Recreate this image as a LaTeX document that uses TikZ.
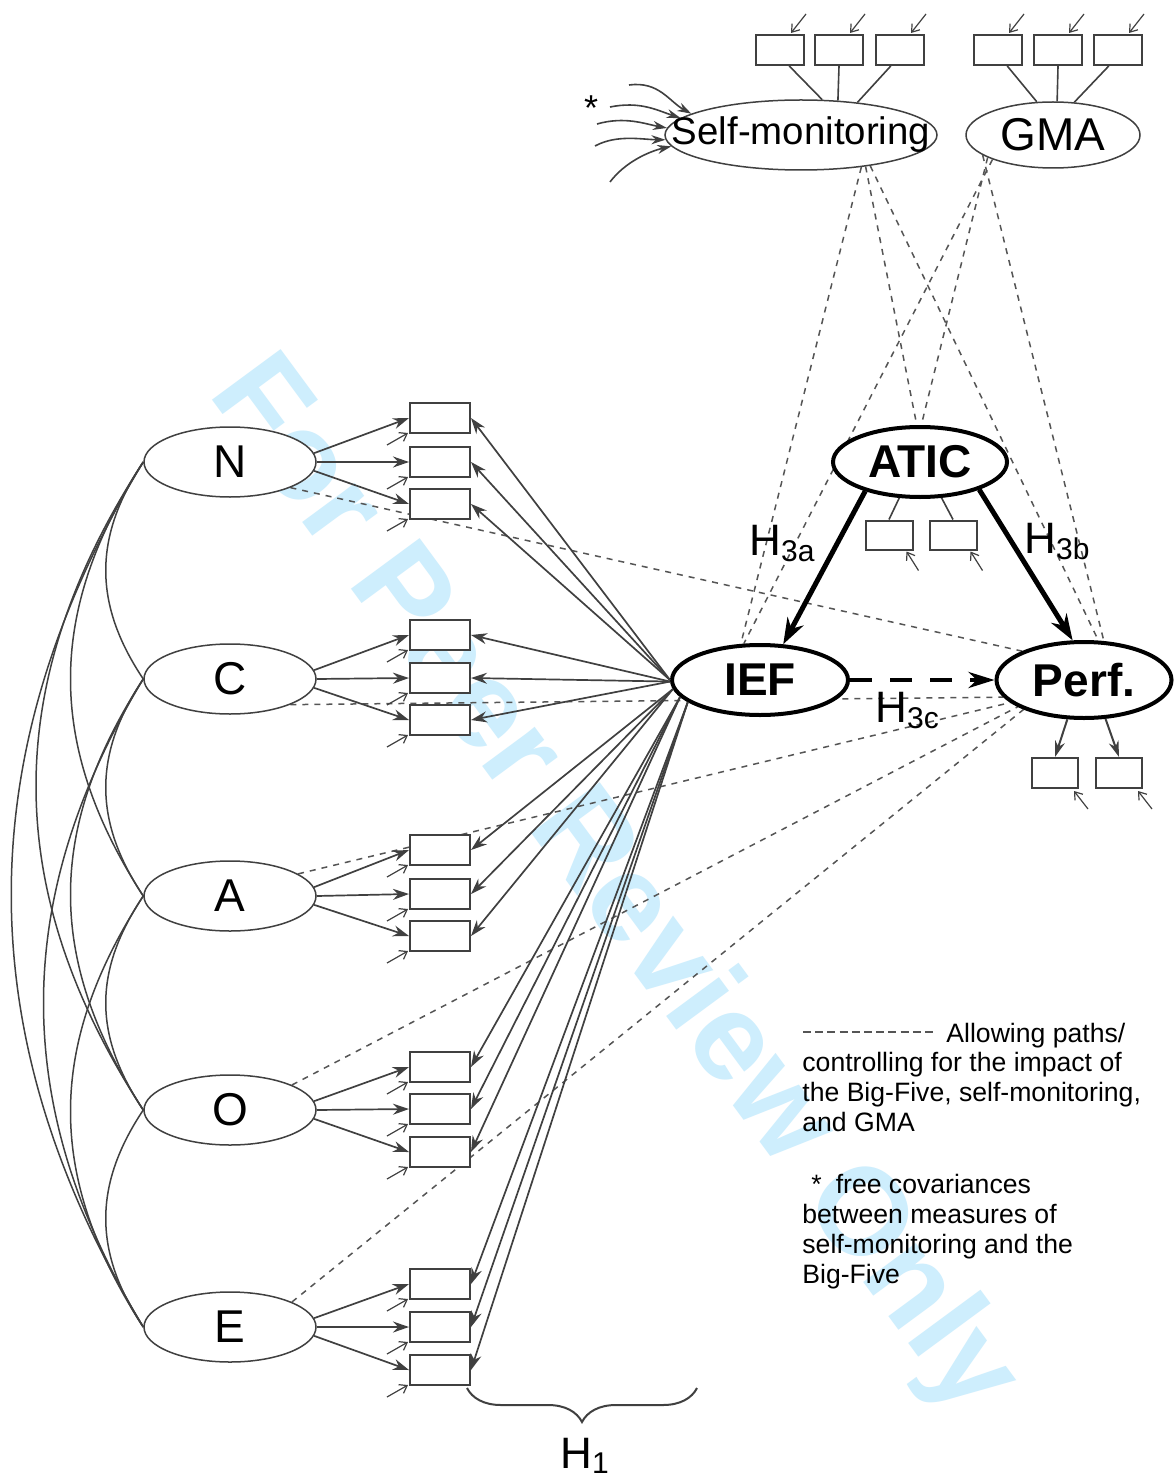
\documentclass[tikz,border=0pt]{standalone}
\usepackage{fontspec}
\setmainfont{Liberation Sans}
\usetikzlibrary{arrows.meta,decorations.pathreplacing,shapes.geometric,calc}
\definecolor{wmblue}{RGB}{206,238,253}
\definecolor{ln}{RGB}{64,64,64}
\definecolor{dl}{RGB}{85,85,85}
\pgfdeclarelayer{wmlayer}
\pgfdeclarelayer{bglayer}
\pgfsetlayers{wmlayer,bglayer,main}
\tikzset{
  lat/.style={ellipse, draw=ln, line width=0.75pt, fill=white, inner sep=0pt,
    minimum width=86pt, minimum height=35pt, font=\fontsize{23}{23}\selectfont},
  keylat/.style={ellipse, draw=black, line width=2pt, fill=white, inner sep=0pt,
    font=\bfseries\fontsize{23}{23}\selectfont},
  indbox/.style={rectangle, draw=ln, line width=1pt, fill=white, inner sep=0pt,
    minimum width=30pt, minimum height=15pt},
  smallbox/.style={indbox, minimum width=24pt, minimum height=15pt},
  arr/.style={draw=ln, line width=0.85pt, -{Stealth[length=8pt,width=5.5pt]}},
  errarr/.style={draw=ln, line width=0.6pt, -{Straight Barb[length=3.5pt,width=5pt]}},
  covarr/.style={draw=ln, line width=0.8pt, -{Stealth[length=7pt,width=4.5pt]}},
  link/.style={draw=ln, line width=0.8pt},
  cov/.style={draw=ln, line width=0.75pt},
  ctrl/.style={draw=dl, line width=0.75pt, dash pattern=on 3pt off 3pt},
  legdash/.style={draw=dl, line width=1.1pt, dash pattern=on 4pt off 2.1pt},
  bigarr/.style={draw=black, line width=2.5pt, -{Stealth[length=13pt,width=9pt]}},
  bigdash/.style={draw=black, line width=2.3pt, dash pattern=on 11pt off 9pt, -{Stealth[length=13pt,width=8pt]}},
  medarr/.style={draw=ln, line width=1pt, -{Stealth[length=8pt,width=5pt]}},
  hlab/.style={anchor=base west, inner sep=0pt, font=\fontsize{22}{22}\selectfont},
  legtxt/.style={anchor=base west, inner sep=0pt, font=\fontsize{13.3}{15}\selectfont},
}
\newcommand{\subtxt}[1]{\raisebox{-3pt}{\fontsize{15}{15}\selectfont #1}}
\begin{document}
\begin{tikzpicture}[x=0.5pt,y=-0.5pt]
\useasboundingbox (0,0) rectangle (1173,1481);
\begin{pgfonlayer}{wmlayer}
\fill[white] (0,0) rectangle (1173,1481);
\node[rotate=-53.6, text=wmblue, font=\bfseries\fontsize{62}{62}\selectfont, inner sep=0pt] (wmark) at (612,888) {For Peer Review Only};
\end{pgfonlayer}

% latent variables
\node[lat] (N) at (230,462) {N};
\node[lat] (C) at (230,679) {C};
\node[lat] (A) at (230,896) {A};
\node[lat] (O) at (230,1110) {O};
\node[lat] (E) at (230,1327) {E};
\node[lat, minimum width=136pt, minimum height=35pt, font=\fontsize{19.2}{19.2}\selectfont] (SM) at (801,135) {\makebox[0pt]{\raisebox{-1pt}{Self-monitoring}}};
\node[lat, minimum width=87pt, minimum height=33pt] (GMA) at (1053,135) {GMA};
\node[keylat, minimum width=87pt, minimum height=35pt] (ATIC) at (920,462) {ATIC};
\node[keylat, minimum width=88pt, minimum height=35pt] (IEF) at (760,680) {IEF};
\node[keylat, minimum width=87.5pt, minimum height=38pt] (Perf) at (1084,680) {Perf.};

% indicator boxes
\foreach \nm/\yy in {N1/418, N2/462, N3/504, C1/635, C2/678, C3/720, A1/850, A2/894, A3/936, O1/1067, O2/1109, O3/1152, E1/1284, E2/1327, E3/1370}
  {\node[indbox] (\nm) at (440,\yy) {};}
\foreach \nm/\xx in {SM1/780, SM2/839, SM3/900, G1/998, G2/1058, G3/1118}
  {\node[smallbox] (\nm) at (\xx,50) {};}
\node[indbox, minimum width=23.5pt, minimum height=14.5pt] (AT1) at (889,535) {};
\node[indbox, minimum width=23.5pt, minimum height=14.5pt] (AT2) at (953,535) {};
\node[indbox, minimum width=23pt, minimum height=15pt] (P1) at (1055,773) {};
\node[indbox, minimum width=23pt, minimum height=15pt] (P2) at (1119,773) {};

% control (dashed) paths
\begin{pgfonlayer}{bglayer}
\draw[ctrl] (SM.-28) -- (IEF.118);
\draw[ctrl] (SM.-26) -- (ATIC.95);
\draw[ctrl] (SM.-24) -- (Perf.70);
\draw[ctrl] (GMA.202) -- (IEF.114);
\draw[ctrl] (GMA.199) -- (ATIC.88);
\draw[ctrl] (GMA.196) -- (Perf.63);
\draw[ctrl] (N.-23) -- (Perf.155);
\draw[ctrl] (C.-23) -- (Perf.192);
\draw[ctrl] (A.18) -- (Perf.197);
\draw[ctrl] (O.22) -- (Perf.202);
\draw[ctrl] (E.22) -- (Perf.206);
\end{pgfonlayer}

% covariances among the Big Five
\draw[cov] (N.west) .. controls +(-50,75) and +(-50,-75) .. (C.west);
\draw[cov] (C.west) .. controls +(-50,75) and +(-50,-75) .. (A.west);
\draw[cov] (A.west) .. controls +(-50,75) and +(-50,-75) .. (O.west);
\draw[cov] (O.west) .. controls +(-50,75) and +(-50,-75) .. (E.west);
\draw[cov] (N.west) .. controls +(-97,150) and +(-97,-150) .. (A.west);
\draw[cov] (C.west) .. controls +(-97,150) and +(-97,-150) .. (O.west);
\draw[cov] (A.west) .. controls +(-97,150) and +(-97,-150) .. (E.west);
\draw[cov] (N.west) .. controls +(-143,220) and +(-143,-220) .. (O.west);
\draw[cov] (C.west) .. controls +(-133,220) and +(-133,-220) .. (E.west);
\draw[cov] (N.west) .. controls +(-176,290) and +(-176,-290) .. (E.west);

% Big Five loadings
\foreach \f in {N,C,A,O,E} {
  \draw[arr] (\f.6) -- (\f1.west);
  \draw[arr] (\f.east) -- (\f2.west);
  \draw[arr] (\f.-6) -- (\f3.west);
}
% IEF method factor loadings
\foreach \b/\a in {N1/180,N2/180,N3/180,C1/181,C2/181,C3/181,A1/186,A2/186,A3/186,O1/192,O2/192,O3/192,E1/197,E2/197,E3/197}
  {\draw[arr] (IEF.\a) -- (\b.east);}
% error terms
\foreach \b in {N1,N2,N3,C1,C2,C3,A1,A2,A3,O1,O2,O3,E1,E2,E3}
  {\draw[errarr] ($(\b.south west)+(-22,11)$) -- ($(\b.south west)+(-1,-1)$);}
\foreach \b in {SM1,SM2,SM3,G1,G2,G3}
  {\draw[errarr] ($(\b.north east)+(1,-20)$) -- ($(\b.north east)+(-14,-1)$);}
\foreach \b in {AT1,AT2}
  {\draw[errarr] ($(\b.south east)+(5,20)$) -- ($(\b.south east)+(-7,1)$);}
\foreach \b in {P1,P2}
  {\draw[errarr] ($(\b.south east)+(9,20)$) -- ($(\b.south east)+(-5,2)$);}

% top indicators
\draw[link] (SM1.-60) -- (SM.59);
\draw[link] (SM2.south) -- (SM.43);
\draw[link] (SM3.-120) -- (SM.30);
\draw[link] (G1.-60) -- (GMA.116);
\draw[link] (G2.south) -- (GMA.83);
\draw[link] (G3.-120) -- (GMA.57);
\draw[link] (ATIC.-120) -- (AT1.north);
\draw[link] (ATIC.-59) -- (AT2.north);
\draw[medarr] (Perf.-113) -- (P1.north);
\draw[medarr] (Perf.-61) -- (P2.north);

% free covariances into self-monitoring
\coordinate (s1) at (629,85);
\coordinate (s2) at (610,107);
\coordinate (s3) at (597,124);
\coordinate (s4) at (595,146);
\coordinate (s5) at (610,182);
\draw[covarr] (s1) .. controls +(30,-4) and +(-22,-12) .. (SM.169);
\draw[covarr] (s2) .. controls +(30,-6) and +(-24,-8) .. (SM.172);
\draw[covarr] (s3) .. controls +(28,-8) and +(-22,-4) .. (SM.177);
\draw[covarr] (s4) .. controls +(22,-12) and +(-22,0) .. (SM.182);
\draw[covarr] (s5) .. controls +(15,-20) and +(-22,5) .. (SM.185);
\node[font=\fontsize{18}{18}\selectfont, inner sep=0pt, anchor=base] (star) at (591,121) {*};

% hypotheses
\draw[bigarr] (ATIC.208) -- (IEF.57);
\draw[bigarr] (ATIC.-25) -- (Perf.106);
\draw[bigdash] (IEF.east) -- (Perf.west);
\node[hlab] (h3a) at (749,555) {H\subtxt{3a}};
\node[hlab] (h3b) at (1024,553) {H\subtxt{3b}};
\node[hlab] (h3c) at (875,722) {H\subtxt{3c}};

% brace H1
\coordinate (brL) at (467,1388);
\coordinate (brR) at (697,1388);
\draw[draw=ln, line width=1pt, decorate, decoration={brace, mirror, amplitude=17pt}] (brL) -- (brR);
\node[hlab] (h1) at (560,1468) {H\raisebox{-2.5pt}{\fontsize{15}{15}\selectfont 1}};

% legend
\coordinate (lgA) at (803,1032);
\coordinate (lgB) at (937,1032);
\draw[legdash] (lgA) -- (lgB);
\node[legtxt] (lg1) at (946,1042) {Allowing paths/};
\node[legtxt] (lg2) at (802,1071) {controlling for the impact of};
\node[legtxt] (lg3) at (802,1101) {the Big-Five, self-monitoring,};
\node[legtxt] (lg4) at (802,1131) {and GMA};
\node[legtxt] (lg5) at (802,1193) {\hspace*{4.5pt}*\hspace*{7pt}free covariances};
\node[legtxt] (lg6) at (802,1223) {between measures of};
\node[legtxt] (lg7) at (802,1253) {self-monitoring and the};
\node[legtxt] (lg8) at (802,1283) {Big-Five};
\end{tikzpicture}
\end{document}
